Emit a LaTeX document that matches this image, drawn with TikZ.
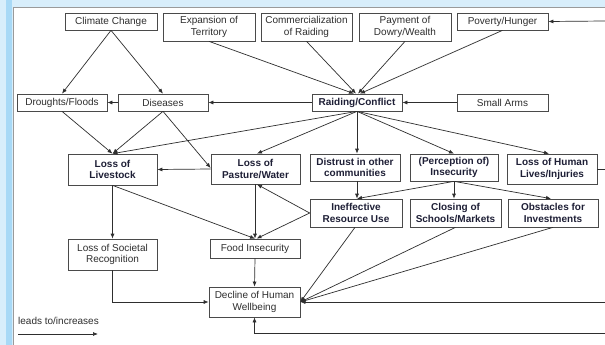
\documentclass[tikz,border=0pt]{standalone}
\usepackage{fontspec}
\setmainfont{Liberation Sans}
\usetikzlibrary{arrows.meta}
\definecolor{bgblue}{HTML}{D8EEFB}
\definecolor{stripblue}{HTML}{A8D9F6}
\definecolor{panelline}{HTML}{9A9A9A}
\definecolor{boxline}{HTML}{4A4A4A}
\definecolor{txt}{HTML}{2E2E2E}
\definecolor{boldtxt}{HTML}{1E1F36}
\definecolor{conn}{HTML}{2E2E2E}
\begin{document}
\begin{tikzpicture}[x=1pt,y=-1pt,
  box/.style={draw=boxline, line width=0.7pt, rectangle, inner sep=0pt, align=center,
    font=\fontsize{10}{11.5}\selectfont, text=txt},
  bbox/.style={box, font=\fontsize{10}{11.5}\selectfont\bfseries, text=boldtxt},
  arr/.style={draw=conn, line width=0.7pt, -{Latex[length=5pt,width=4pt]}},
  ln/.style={draw=conn, line width=0.7pt}]
\useasboundingbox (0,0) rectangle (605,345);
\fill[bgblue] (0,0) rectangle (605,345);
\fill[stripblue] (6,0) rectangle (12,345);
\fill[white] (13,7) rectangle (605,345);
\draw[panelline, line width=0.8pt] (13,345) -- (13,7) -- (605,7);

% top row
\node[box, minimum width=92pt, minimum height=17pt] (cc) at (111,21.5) {Climate Change};
\node[box, minimum width=92pt, minimum height=28pt] (et) at (209,27) {Expansion of\\Territory};
\node[box, minimum width=91pt, minimum height=28pt] (cr) at (306.5,27) {Commercialization\\of Raiding};
\node[box, minimum width=92pt, minimum height=28pt] (pd) at (405,27) {Payment of\\Dowry/Wealth};
\node[box, minimum width=91pt, minimum height=17pt] (ph) at (502.5,21.5) {Poverty/Hunger};
% second row
\node[box, minimum width=90pt, minimum height=17pt] (df) at (62,102.5) {Droughts/Floods};
\node[box, minimum width=90pt, minimum height=17pt] (di) at (163,102.5) {Diseases};
\node[bbox, minimum width=90pt, minimum height=17pt] (rc) at (357,102.5) {Raiding/Conflict};
\node[box, minimum width=91pt, minimum height=17pt] (sa) at (502.5,102.5) {Small Arms};
% third row
\node[bbox, minimum width=89pt, minimum height=31pt] (ll) at (112.5,169.5) {Loss of\\Livestock};
\node[bbox, minimum width=89pt, minimum height=30pt] (lp) at (255.5,169) {Loss of\\Pasture/Water};
\node[bbox, minimum width=90pt, minimum height=27pt] (dt) at (355,167.5) {Distrust in other\\communities};
\node[bbox, minimum width=88pt, minimum height=27pt] (pi) at (454,167.5) {(Perception of)\\Insecurity};
\node[bbox, minimum width=90pt, minimum height=30pt] (lh) at (552,169) {Loss of Human\\Lives/Injuries};
% fourth row
\node[bbox, minimum width=92pt, minimum height=28pt] (ir) at (356,213) {Ineffective\\Resource Use};
\node[bbox, minimum width=91pt, minimum height=28pt] (cs) at (455.5,213) {Closing of\\Schools/Markets};
\node[bbox, minimum width=90pt, minimum height=28pt] (oi) at (553,213) {Obstacles for\\Investments};
% lower rows
\node[box, minimum width=89pt, minimum height=31pt] (sr) at (112.5,254.5) {Loss of Societal\\Recognition};
\node[box, minimum width=90pt, minimum height=19pt] (fi) at (255,248.5) {Food Insecurity};
\node[box, minimum width=91pt, minimum height=30pt] (dw) at (254.5,302) {Decline of Human\\Wellbeing};

% edge coordinates
\coordinate (eph) at (605,21);
\coordinate (elh) at (605,169);
\coordinate (edw) at (605,302);
\coordinate (ebt) at (605,333);

% connectors top
\draw[arr] (cc.south) -- (df.north);
\draw[arr] (cc.south) -- (di.north);
\draw[arr] (et.south) -- ([xshift=-3pt]rc.north);
\draw[arr] (cr.south) -- ([xshift=-1pt]rc.north);
\draw[arr] (pd.south) -- ([xshift=1pt]rc.north);
\draw[arr] (ph.south) -- ([xshift=3pt]rc.north);
\draw[arr] (eph) -- (ph.east);
\draw[arr] (di.west) -- (df.east);
\draw[arr] (rc.west) -- (di.east);
\draw[arr] (sa.west) -- (rc.east);
% to third row
\draw[arr] (df.south) -- (ll.north);
\draw[arr] (di.south) -- (ll.north);
\draw[arr] (di.south) -- ([yshift=1pt]lp.west);
\draw[arr] (lp.west) -- (ll.east);
\draw[arr] (rc.south) -- (ll.north);
\draw[arr] (rc.south) -- ([xshift=1.5pt]lp.north);
\draw[arr] (rc.south) -- (rc.south |- dt.north);
\draw[arr] (rc.south) -- (pi.north);
\draw[arr] (rc.south) -- ([xshift=-3pt]lh.north);
% to fourth row
\draw[arr] (dt.south -| rc.south) -- (rc.south |- ir.north);
\draw[arr] (pi.south) -- (rc.south |- ir.north);
\draw[arr] (pi.south) -- (pi.south |- cs.north);
\draw[arr] (pi.south) -- ([xshift=-2pt]oi.north);
\draw[ln] (lh.east) -- (elh);
% lower
\draw[arr] (ll.south) -- (sr.north);
\draw[arr] (ll.south) -- (fi.north);
\draw[arr] (lp.south -| fi.north) -- (fi.north);
\draw[arr] (ir.west) -- ([xshift=1.5pt]lp.south);
\draw[arr] (ir.west) -- ([xshift=1.5pt]fi.north);
\draw[arr] (fi.south) -- (dw.north);
\draw[arr] (sr.south) |- (dw.west);
\draw[arr] ([xshift=-1pt]ir.south) -- (dw.east);
\draw[arr] (cs.south) -- (dw.east);
\draw[arr] (oi.south) -- (dw.east);
\draw[arr] (edw) -- (dw.east);
\draw[arr] (ebt) -| (dw.south);

% legend
\node[anchor=west, inner sep=0pt, font=\fontsize{10}{11}\selectfont, text=txt] (lg) at (18,321) {leads to/increases};
\coordinate (la) at (18,334);
\coordinate (lb) at (98,334);
\draw[arr] (la) -- (lb);
\end{tikzpicture}
\end{document}
